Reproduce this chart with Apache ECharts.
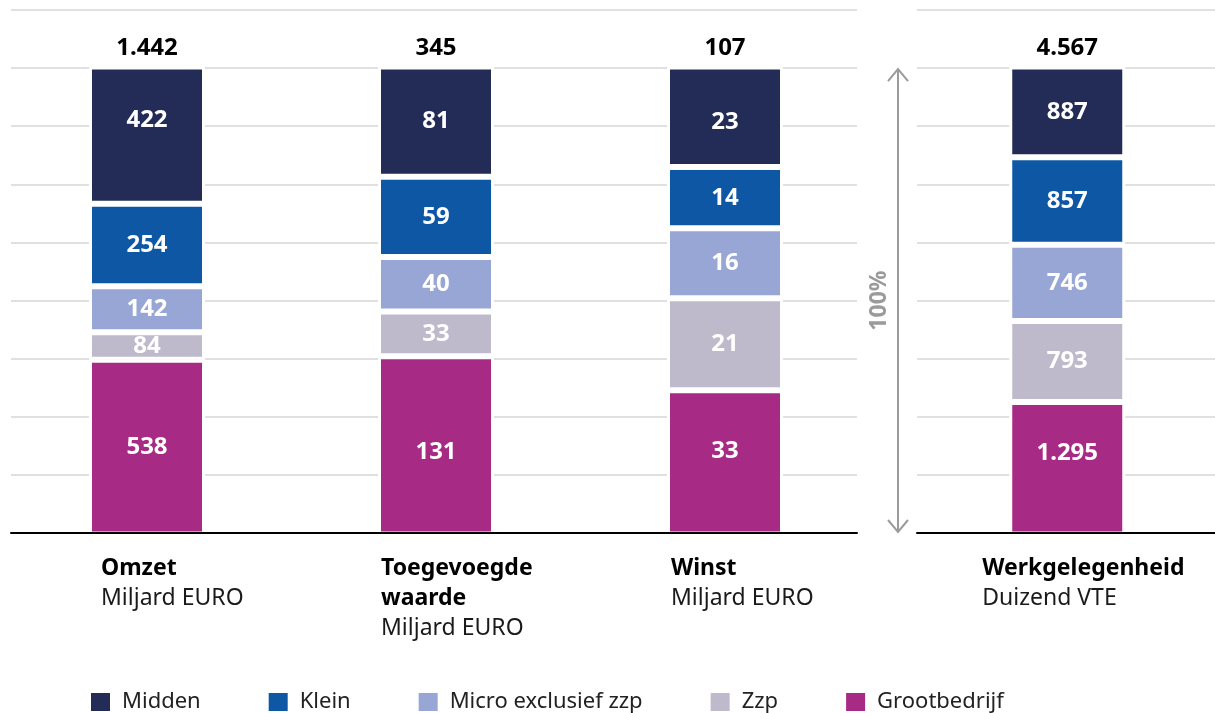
<!DOCTYPE html>
<html>
<head>
<meta charset="utf-8">
<script src="https://cdn.jsdelivr.net/npm/echarts@6/dist/echarts.min.js"></script>
<style>
  html, body { margin: 0; padding: 0; background: #fff; }
  #chart { width: 1215px; height: 713px; }
</style>
</head>
<body>
<div id="chart"></div>
<script>
// categorieën + eenheden
const categories = ['Omzet', 'Toegevoegde\nwaarde', 'Winst', 'Werkgelegenheid'];
const units = ['Miljard EURO', 'Miljard EURO', 'Miljard EURO', 'Duizend VTE'];
const totals = [1442, 345, 107, 4567];

// waarden per grootteklasse (onder naar boven gestapeld)
const grootbedrijf = [538, 131, 33, 1295];
const zzp = [84, 33, 21, 793];
const microExclZzp = [142, 40, 16, 746];
const klein = [254, 59, 14, 857];
const midden = [422, 81, 23, 887];

const legendNames = ['Midden', 'Klein', 'Micro exclusief zzp', 'Zzp', 'Grootbedrijf'];

// 100% schaal, bovenste lijn op 112,5
const yMax = 112.5;
const yStep = 12.5;

var fontFamily = '"Noto Sans", sans-serif';
var gridColor = '#d6d6d6';
var arrowColor = '#9b9b9b';

const segments = [
  { name: 'Grootbedrijf', values: grootbedrijf, color: '#a72a85' },
  { name: 'Zzp', values: zzp, color: '#bebacb' },
  { name: 'Micro exclusief zzp', values: microExclZzp, color: '#97a6d4' },
  { name: 'Klein', values: klein, color: '#0d57a5' },
  { name: 'Midden', values: midden, color: '#222c56' },
];

const sums = categories.map((c, i) => segments.reduce((s, seg) => s + seg.values[i], 0));

function fmt(v) {
  return String(v).replace(/\B(?=(\d{3})+(?!\d))/g, '.');
}

// inspringing van de aslabels t.o.v. het midden van de staaf
var labelIndent = [46, 55, 54, 85];
// handmatige verschuiving van enkele labels in de staaf (zoals in het origineel)
var labelShift = { 'Midden-0': -15, 'Grootbedrijf-1': 7, 'Midden-2': 5, 'Grootbedrijf-2': -11, 'Grootbedrijf-3': -15 };

var rich = {};
categories.forEach((c, k) => {
  rich['b' + k] = {
    fontFamily: fontFamily, fontWeight: 'bold', fontSize: 23, lineHeight: 30,
    color: '#000', width: labelIndent[k] * 2, align: 'left'
  };
  rich['n' + k] = {
    fontFamily: fontFamily, fontWeight: 'normal', fontSize: 23, lineHeight: 30,
    color: '#1a1a1a', width: labelIndent[k] * 2, align: 'left'
  };
});

function axisLabel(base) {
  return {
    interval: 0,
    margin: 19,
    align: 'center',
    formatter: function (value, i) {
      const k = base + i;
      return value.split('\n').map(s => '{b' + k + '|' + s + '}').join('\n') + '\n{n' + k + '|' + units[k] + '}';
    },
    rich: rich,
  };
}

function valueAxis(gridIndex, showSplit) {
  return {
    gridIndex: gridIndex,
    type: 'value',
    min: 0,
    max: yMax,
    interval: yStep,
    axisLabel: { show: false },
    axisLine: { show: false },
    axisTick: { show: false },
    splitLine: { show: showSplit, lineStyle: { color: gridColor, width: 1.5 } },
  };
}

// grid 1: staven links (Omzet, Toegevoegde waarde, Winst), grid 3: staaf rechts (Werkgelegenheid)
const sides = [
  { axis: 1, idx: [0, 1, 2] },
  { axis: 3, idx: [3] },
];

var series = [];
sides.forEach(side => {
  segments.forEach(seg => {
    series.push({
      name: seg.name,
      type: 'bar',
      stack: 's' + side.axis,
      xAxisIndex: side.axis,
      yAxisIndex: side.axis,
      barWidth: 116,
      itemStyle: { color: seg.color, borderColor: '#fff', borderWidth: 3 },
      label: {
        show: true,
        position: 'inside',
        color: '#fff',
        fontFamily: fontFamily,
        fontWeight: 'bold',
        fontSize: 24,
        formatter: p => fmt(seg.values[side.idx[p.dataIndex]]),
      },
      data: side.idx.map(i => {
        const item = { value: seg.values[i] / sums[i] * 100 };
        const dy = labelShift[seg.name + '-' + i];
        if (dy) item.label = { offset: [0, dy] };
        return item;
      }),
    });
  });
  // totaal boven de staaf
  series.push({
    name: 'totaal',
    type: 'bar',
    stack: 's' + side.axis,
    xAxisIndex: side.axis,
    yAxisIndex: side.axis,
    barWidth: 116,
    itemStyle: { color: 'transparent' },
    label: {
      show: true,
      position: 'top',
      distance: 6,
      color: '#000',
      fontFamily: fontFamily,
      fontWeight: 'bold',
      fontSize: 24,
      formatter: p => fmt(totals[side.idx[p.dataIndex]]),
    },
    data: side.idx.map(() => 0),
  });
});

const chart = echarts.init(document.getElementById('chart'));
var option = {
  animation: false,
  textStyle: { fontFamily: fontFamily },
  grid: [
    { left: 11, width: 846, top: 10, height: 523 },
    { left: 2.5, width: 867, top: 8, height: 526.5 },
    { left: 917, width: 298, top: 10, height: 523 },
    { left: 919.5, width: 298, top: 8, height: 526.5 },
  ],
  legend: {
    data: legendNames,
    left: 84,
    top: 686,
    icon: 'rect',
    itemWidth: 21,
    itemHeight: 20,
    itemGap: 66,
    textStyle: { fontFamily: fontFamily, fontSize: 22, color: '#222', padding: [0, 0, 0, 6] },
  },
  xAxis: [
    {
      gridIndex: 0, type: 'category', data: [''], z: 5,
      axisLine: { lineStyle: { color: '#000', width: 2 } },
      axisTick: { show: false }, axisLabel: { show: false },
    },
    {
      gridIndex: 1, type: 'category', data: categories.slice(0, 3),
      axisLine: { show: false }, axisTick: { show: false },
      axisLabel: axisLabel(0),
    },
    {
      gridIndex: 2, type: 'category', data: [''], z: 5,
      axisLine: { lineStyle: { color: '#000', width: 2 } },
      axisTick: { show: false }, axisLabel: { show: false },
    },
    {
      gridIndex: 3, type: 'category', data: categories.slice(3),
      axisLine: { show: false }, axisTick: { show: false },
      axisLabel: axisLabel(3),
    },
  ],
  yAxis: [valueAxis(0, true), valueAxis(1, false), valueAxis(2, true), valueAxis(3, false)],
  series: series,
};
chart.setOption(option);

// 100%-pijl tussen de twee panelen
const yTop = chart.convertToPixel({ yAxisIndex: 2 }, 100);
const yBot = chart.convertToPixel({ yAxisIndex: 2 }, 0);
const ax = 898;
chart.setOption({
  graphic: [
    { type: 'line', shape: { x1: ax, y1: yTop + 1, x2: ax, y2: yBot - 1 }, style: { stroke: arrowColor, lineWidth: 2 } },
    { type: 'polyline', shape: { points: [[ax - 10, yTop + 13], [ax, yTop + 1], [ax + 10, yTop + 13]] }, style: { stroke: arrowColor, lineWidth: 2, fill: null } },
    { type: 'polyline', shape: { points: [[ax - 10, yBot - 13], [ax, yBot - 1], [ax + 10, yBot - 13]] }, style: { stroke: arrowColor, lineWidth: 2, fill: null } },
    {
      type: 'text', x: 879, y: (yTop + yBot) / 2, rotation: Math.PI / 2,
      style: { text: '100%', fill: arrowColor, font: 'bold 23px "Noto Sans", sans-serif', align: 'center', verticalAlign: 'middle' },
    },
  ],
});
</script>
</body>
</html>
